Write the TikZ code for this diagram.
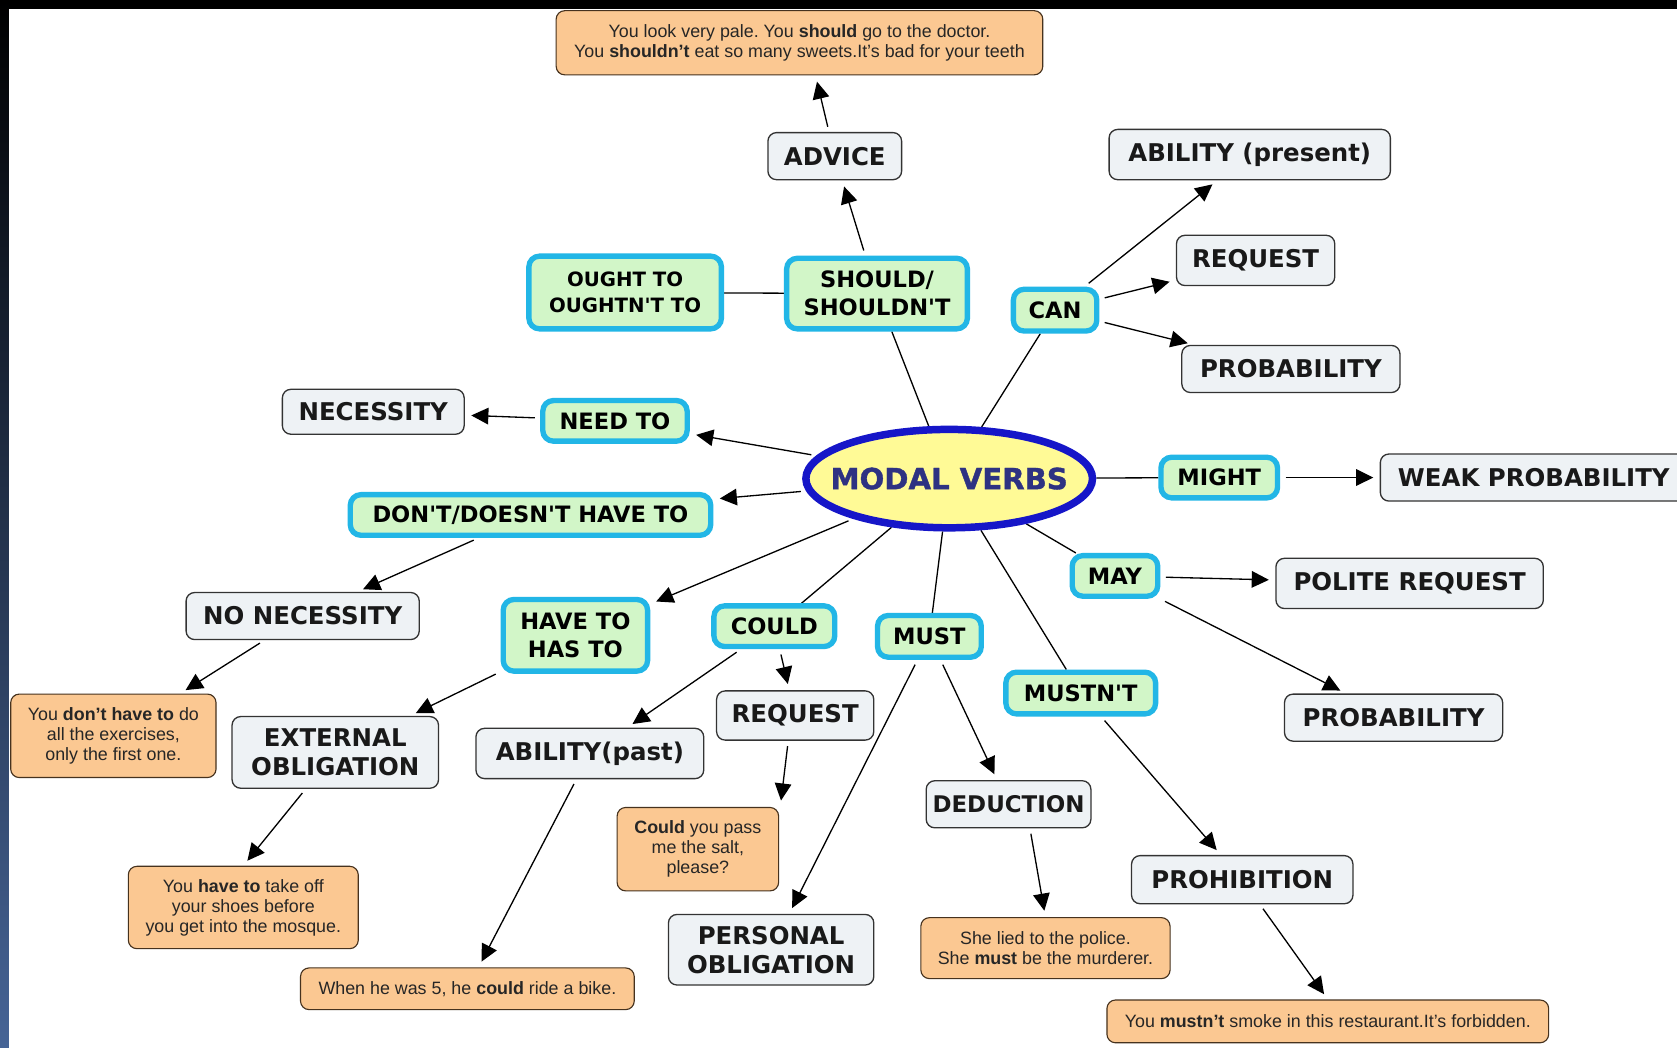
\documentclass[tikz,border=0pt]{standalone}
\usepackage{fontspec}
\setmainfont{Liberation Sans}
\newfontfamily\verbfont{DejaVu Sans}
\newfontfamily\heavyfont{DejaVu Sans}[BoldFeatures={FakeBold=1.3}]
\usetikzlibrary{arrows.meta,positioning,shapes.geometric,backgrounds}
\definecolor{verbcyan}{RGB}{34,182,230}
\definecolor{verbgreen}{RGB}{210,246,200}
\definecolor{usegray}{RGB}{238,242,245}
\definecolor{expeach}{RGB}{251,200,146}
\definecolor{exborder}{RGB}{70,50,30}
\definecolor{modalblue}{RGB}{22,22,200}
\definecolor{modalink}{RGB}{46,50,130}
\definecolor{modalfill}{RGB}{255,250,150}
\definecolor{stripblue}{RGB}{70,100,150}
\frenchspacing

\begin{document}
\begin{tikzpicture}[
      x=0.2mm, y=-0.2mm,
      >={Triangle[length=3.2mm,width=3.1mm]},
      modal/.style={ellipse, draw=modalblue, line width=1.4mm, fill=modalfill,
                    text=modalink, inner xsep=-4mm, inner ysep=0pt,
                    minimum width=53.6mm, minimum height=18.4mm,
                    font=\heavyfont\bfseries\fontsize{15.5}{18}\selectfont},
      verb/.style={draw=verbcyan, line width=1mm, fill=verbgreen, rounded corners=2mm,
                   align=center, inner sep=0.5mm, minimum height=7.6mm,
                   font=\verbfont\bfseries\fontsize{12}{15}\selectfont},
      usage/.style={draw=black!80, line width=0.7pt, fill=usegray, rounded corners=1.6mm,
                    align=center, inner sep=0.5mm, minimum height=8.8mm, text=black!90,
                    font=\verbfont\bfseries\fontsize{13}{15.5}\selectfont},
      sample/.style={draw=exborder, line width=0.6pt, fill=expeach, rounded corners=1.6mm,
                     align=center, inner sep=0.5mm, text=black!85,
                     font=\fontsize{9.5}{10.6}\selectfont},
      link/.style={line width=0.7pt},
      arr/.style={link, ->, shorten <=1mm, shorten >=1.2mm}
    ]
    \useasboundingbox (0,0) rectangle (1568,979);
    \clip (0,0) rectangle (1568,979);
    \begin{scope}[on background layer]
      \fill[white] (0,0) rectangle (1568,979);
    \end{scope}

    % centre
    \node[modal] (modal) at (887.5,447.5) {MODAL VERBS};

    % verbs
    \node[verb, minimum width=36mm, minimum height=13.6mm,
          font=\verbfont\bfseries\fontsize{10.5}{14}\selectfont] (ought) at (584.5,273.5) {OUGHT TO\\OUGHTN'T TO};
    \node[verb, minimum width=33.8mm, minimum height=13.2mm] (should) at (820,274.5) {SHOULD/\\SHOULDN'T};
    \node[verb, minimum width=15.6mm, minimum height=7.8mm] (can) at (986.5,290) {CAN};
    \node[verb, minimum width=27mm] (needto) at (575,393.5) {NEED TO};
    \node[verb, minimum width=21.8mm] (might) at (1140,446.5) {MIGHT};
    \node[verb, minimum width=67.4mm] (dont) at (496,481.5) {DON'T/DOESN'T HAVE TO};
    \node[verb, minimum width=16mm] (may) at (1042.5,538.5) {MAY};
    \node[verb, minimum width=27mm, minimum height=13.4mm] (haveto) at (538,594) {HAVE TO\\HAS TO};
    \node[verb, minimum width=22.6mm] (could) at (724,585.5) {COULD};
    \node[verb, minimum width=19.4mm, minimum height=7.8mm] (must) at (869,595) {MUST};
    \node[verb, minimum width=28mm, minimum height=7.8mm] (mustnt) at (1010.5,648) {MUSTN'T};

    % uses
    \node[usage, minimum width=25mm] (advice) at (780.5,146) {ADVICE};
    \node[usage, minimum width=52.6mm, minimum height=9.4mm] (abilpres) at (1168.5,144.5) {ABILITY (present)};
    \node[usage, minimum width=29.6mm, minimum height=9.4mm] (reqcan) at (1174,243.5) {REQUEST};
    \node[usage, minimum width=40.8mm] (probcan) at (1207,345) {PROBABILITY};
    \node[usage, minimum width=34mm, minimum height=8.4mm] (necessity) at (349,385) {NECESSITY};
    \node[usage, minimum width=57.4mm, right=18.6mm of might] (weak) {WEAK PROBABILITY};
    \node[usage, minimum width=50mm, minimum height=9.4mm] (polite) at (1318,545.5) {POLITE REQUEST};
    \node[usage, minimum width=43.6mm] (nonec) at (283,576) {NO NECESSITY};
    \node[usage, minimum width=40.8mm] (probmay) at (1303,671) {PROBABILITY};
    \node[usage, minimum width=29.4mm, minimum height=9.2mm] (reqcould) at (743.5,669) {REQUEST};
    \node[usage, minimum width=38.6mm, minimum height=13.4mm] (external) at (313.5,703.5) {EXTERNAL\\OBLIGATION};
    \node[usage, minimum width=42.6mm, minimum height=9.4mm] (abilpast) at (551.5,704.5) {ABILITY(past)};
    \node[usage, minimum width=30.8mm,
          font=\verbfont\bfseries\fontsize{12.2}{15}\selectfont] (deduction) at (943,752) {DEDUCTION};
    \node[usage, minimum width=41.4mm, minimum height=9mm] (prohib) at (1161.5,822.5) {PROHIBITION};
    \node[usage, minimum width=38.4mm, minimum height=13.2mm] (personal) at (721,888) {PERSONAL\\OBLIGATION};

    % examples
    \node[sample, minimum width=91mm, minimum height=12mm] (exadvice) at (747.5,40)
      {You look very pale. You \textbf{should} go to the doctor.\\You \textbf{shouldn't} eat so many sweets.It's bad for your teeth};
    \node[sample, minimum width=38.4mm, minimum height=15.6mm] (exdont) at (106,688)
      {You \textbf{don't have to} do\\all the exercises,\\only the first one.};
    \node[sample, minimum width=30.2mm, minimum height=15.6mm] (excould) at (652.5,794)
      {\textbf{Could} you pass\\me the salt,\\please?};
    \node[sample, minimum width=43mm, minimum height=15.4mm] (exhave) at (227.5,848.5)
      {You \textbf{have to} take off\\your shoes before\\you get into the mosque.};
    \node[sample, minimum width=46.6mm, minimum height=11.4mm] (exmust) at (977.5,886.5)
      {She lied to the police.\\She \textbf{must} be the murderer.};
    \node[sample, minimum width=62.4mm, minimum height=7.8mm] (exabil) at (437,924.5)
      {When he was 5, he \textbf{could} ride a bike.};
    \node[sample, minimum width=82.6mm, minimum height=8mm] (exmustnt) at (1241.5,955)
      {You \textbf{mustn't} smoke in this restaurant.It's forbidden.};

    \begin{scope}[on background layer]
      % plain links from the centre
      \draw[link] (ought) -- (should);
      \draw[link] (modal) -- (should);
      \draw[link] (modal) -- (can);
      \draw[link] (modal) -- (could);
      \draw[link] (modal) -- (must);
      \draw[link] (modal) -- (mustnt);
      \draw[link] (modal) -- (may);
      \draw[link] (modal) -- (might);

      % arrows
      \draw[arr] (modal) -- (needto);
      \draw[arr] (modal) -- (dont);
      \draw[arr] (modal) -- (haveto);
      \draw[arr] (should) -- (advice);
      \draw[arr] (advice) -- ([xshift=3mm]exadvice.south);
      \draw[arr] (can) -- (abilpres);
      \draw[arr] (can) -- (reqcan);
      \draw[arr] (can) -- (probcan);
      \draw[arr] (needto) -- (necessity);
      \draw[arr] (dont) -- (nonec);
      \draw[arr] (nonec) -- (exdont);
      \draw[arr] (haveto) -- (external);
      \draw[arr] (external) -- (exhave.north);
      \draw[arr] (could) -- (abilpast);
      \draw[arr] (could) -- (reqcould);
      \draw[arr] (abilpast) -- (exabil);
      \draw[arr] ([xshift=-1.3mm]reqcould.south) -- ([xshift=0.2mm]excould.north east);
      \draw[arr] (must) -- (personal);
      \draw[arr] (must) -- (deduction);
      \draw[arr] ([xshift=4mm]deduction.south) -- (exmust.north);
      \draw[arr] (mustnt) -- (prohib);
      \draw[arr] (prohib) -- (exmustnt.north);
      \draw[arr] (may) -- (polite);
      \draw[arr] (may) -- (probmay);
      \draw[arr] (might) -- (weak);
    \end{scope}

    % frame strips
    \fill[black] (0,0) rectangle (1568,8.4);
    \shade[top color=black, middle color=black!75!stripblue, bottom color=stripblue]
      (0,0) rectangle (8.4,979);
  \end{tikzpicture}
\end{document}
